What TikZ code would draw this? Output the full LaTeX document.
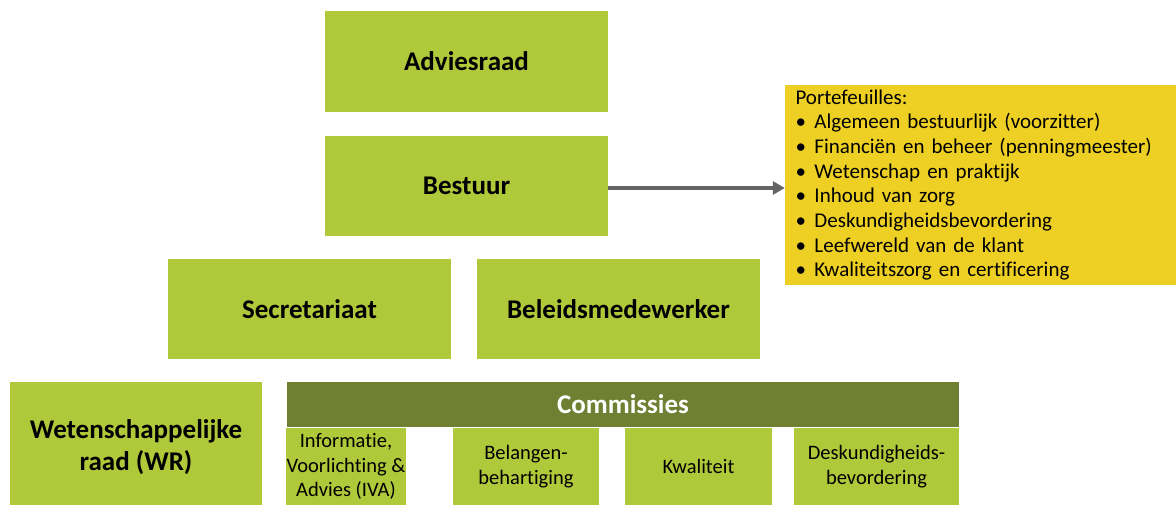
\documentclass[tikz,border=0pt]{standalone}
\usepackage{fontspec}
\setmainfont{Carlito}[Ligatures=NoCommon]
\definecolor{orggreen}{RGB}{176, 201, 58}
\definecolor{orgdark}{RGB}{111, 128, 50}
\definecolor{orgyellow}{RGB}{238, 208, 36}
\definecolor{arrowgray}{RGB}{100, 100, 100}
\usetikzlibrary{arrows.meta, positioning}
\tikzset{
  orgbox/.style={fill=orggreen, inner sep=4pt, align=center, font=\fontsize{27}{32}\selectfont\bfseries},
  subbox/.style={fill=orggreen, minimum height=77pt, inner sep=1pt, align=center, font=\fontsize{20.5}{24.5}\selectfont},
}
\newcommand{\bul}{\makebox[19pt][l]{\textbullet}}

\begin{document}
\begin{tikzpicture}[x=1pt, y=-1pt]
  \useasboundingbox (0,0) rectangle (1176,505);
  % top of the chart
  \node[orgbox, minimum width=283pt, minimum height=101pt] (advies) at (466.5,61.5) {Adviesraad};
  \node[orgbox, minimum width=283pt, minimum height=100pt] (bestuur) at (466.5,186) {Bestuur};
  \node[orgbox, minimum width=283pt, minimum height=100pt] (secr) at (309.5,309) {Secretariaat};
  \node[orgbox, minimum width=283pt, minimum height=100pt] (beleid) at (618.5,309) {Beleidsmedewerker};
  \node[orgbox, minimum width=252pt, minimum height=130pt] (wr) at (136,447) {Wetenschappelijke\\raad (WR)};
  % commissies
  \node[fill=orgdark, text=white, minimum width=672pt, minimum height=45pt, inner sep=0pt, font=\fontsize{27}{32}\selectfont\bfseries] (comm) at (623,404.5) {Commissies};
  \node[subbox, minimum width=118pt] (iva) at (346,466.5) {Informatie,\\Voorlichting \&\\Advies (IVA)};
  \node[subbox, minimum width=146pt] (belang) at (526,466.5) {Belangen-\\behartiging};
  \node[subbox, minimum width=147pt] (kwal) at (698.5,466.5) {Kwaliteit};
  \node[subbox, minimum width=165pt] (desk) at (876.5,466.5) {Deskundigheids-\\bevordering};
  % portefeuilles
  \node[fill=orgyellow, minimum width=391pt, minimum height=200pt, text width=370pt, inner xsep=10.5pt, inner ysep=4pt, align=left, font=\fontsize{21}{24.7}\selectfont] (port) at (980.5,185) {%
    Portefeuilles:\\
    \bul Algemeen bestuurlijk (voorzitter)\\
    \bul Financiën en beheer (penningmeester)\\
    \bul Wetenschap en praktijk\\
    \bul Inhoud van zorg\\
    \bul Deskundigheidsbevordering\\
    \bul Leefwereld van de klant\\
    \bul Kwaliteitszorg en certificering};
  \draw[arrowgray, line width=4pt, -{Triangle[length=12pt, width=13pt]}] ([yshift=-2pt]bestuur.east) -- ([yshift=-2pt]bestuur.east -| port.west);
\end{tikzpicture}
\end{document}
